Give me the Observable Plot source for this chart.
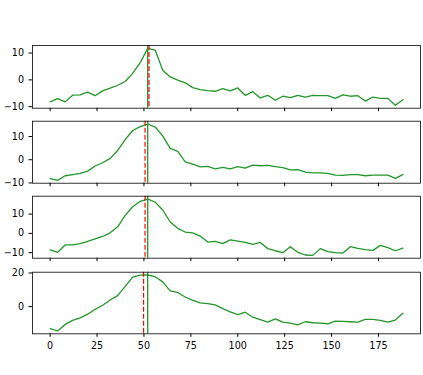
<!DOCTYPE html>
<html><head><meta charset="utf-8">
<script src="https://cdn.jsdelivr.net/npm/d3@7"></script>
<script src="https://cdn.jsdelivr.net/npm/@observablehq/plot@0.6"></script>
<style>
body{margin:0;background:#fff;}
#chart{width:423px;height:375px;position:relative;overflow:hidden;}
#chart svg{display:block;}
</style></head><body><div id="chart"></div>
<script>
const xs = [0,4,8,12,16,20,24,28,32,36,40,44,48,52,56,60,64,68,72,76,80,84,88,92,96,100,104,108,112,116,120,124,128,132,136,140,144,148,152,156,160,164,168,172,176,180,184,188];

const series1 = [-8.2,-7.0,-8.2,-5.7,-5.6,-4.6,-5.9,-4.1,-3.1,-2.0,-0.6,2.4,6.4,11.75,11.1,3.6,1.1,-0.1,-1.1,-2.9,-3.6,-4.0,-4.25,-3.25,-4.1,-3.0,-5.75,-4.4,-6.75,-5.75,-7.6,-6.1,-6.6,-5.75,-6.4,-5.75,-5.9,-5.9,-6.9,-5.6,-6.1,-5.9,-7.9,-6.4,-6.9,-6.9,-9.5,-7.4];
const series2 = [-8.1,-8.9,-6.9,-6.4,-5.9,-4.9,-2.7,-1.3,0.6,4.0,8.7,12.6,14.3,15.4,14.1,10.3,4.9,3.6,-0.9,-1.9,-3.1,-2.9,-3.9,-3.3,-3.9,-3.0,-3.6,-2.3,-2.6,-2.4,-3.0,-3.4,-4.4,-4.3,-5.3,-5.7,-5.7,-5.9,-6.6,-6.7,-6.4,-6.4,-6.9,-6.6,-6.6,-6.6,-8.0,-6.4];
const series3 = [-8.6,-9.8,-6.0,-6.0,-5.3,-4.1,-2.9,-1.6,0.3,3.4,9.3,13.8,16.6,17.8,16.2,12.1,5.9,2.6,0.7,0.3,-1.4,-4.5,-4.1,-5.3,-3.4,-4.0,-4.7,-5.7,-4.7,-7.9,-9.0,-10.0,-6.9,-9.8,-11.2,-11.4,-7.9,-9.5,-10.0,-10.2,-6.9,-7.8,-8.4,-8.8,-6.2,-7.4,-9.0,-7.6];
const series4 = [-13.1,-14.5,-10.6,-8.2,-6.7,-4.5,-1.6,0.8,3.9,6.5,12.0,17.5,18.7,18.8,17.8,14.7,9.4,8.4,5.7,3.7,2.2,1.8,1.0,-1.2,-3.1,-4.7,-3.3,-6.3,-7.8,-9.2,-7.3,-9.2,-9.8,-10.8,-9.0,-9.6,-9.8,-10.2,-8.6,-8.8,-9.0,-9.2,-7.6,-7.6,-8.2,-9.2,-8.0,-3.9];

const greenMarks = [52, 52, 52, 52];
const redMarks = [52.7, 50.6, 50.6, 49.8];

const xTicks = [0,25,50,75,100,125,150,175];
const yTicks1 = [-10,0,10];
const yTicks2 = [-10,0,10];
const yTicks3 = [-10,0,10];
const yTicks4 = [0,20];

const allSeries = [series1, series2, series3, series4];
const allYTicks = [yTicks1, yTicks2, yTicks3, yTicks4];

// layout bands (svg height, frame margins)
const bands = [
  {h:114, mt:45, mb:6.3},
  {h:75, mt:6.7, mb:6.3},
  {h:75, mt:6.7, mb:6.3},
  {h:111, mt:7.7, mb:41.7}
];

const LINE = "#22962a";
const xLo = 0, xHi = 188, xPad = (xHi - xLo) * 0.05;

const chart = document.getElementById("chart");
allSeries.forEach((s, k) => {
  const data = xs.map((x, i) => ({x, y: s[i]}));
  const [lo, hi] = d3.extent(s);
  const pad = (hi - lo) * 0.05;
  const last = k === 3;
  const b = bands[k];
  const svg = Plot.plot({
    width: 423, height: b.h,
    marginLeft: 32, marginRight: 3, marginTop: b.mt, marginBottom: b.mb,
    style: {fontFamily: "'DejaVu Sans', sans-serif", fontSize: "9.6px", background: "transparent", color: "black"},
    x: {domain: [xLo - xPad, xHi + xPad]},
    y: {domain: [lo - pad, hi + pad]},
    marks: [
      Plot.line(data, {x: "x", y: "y", stroke: LINE, strokeWidth: 1.3}),
      Plot.ruleX([greenMarks[k]], {stroke: LINE, strokeWidth: 1.3}),
      Plot.ruleX([redMarks[k]], {stroke: "#ff0000", strokeWidth: 1.2, strokeDasharray: "5,2"}),
      Plot.frame({stroke: "black", strokeWidth: 0.8}),
      Plot.axisX({ticks: xTicks, tickSize: 3.5, tickPadding: 4.5, tickFormat: last ? (d => String(d)) : (() => ""), label: null}),
      Plot.axisY({ticks: allYTicks[k], tickSize: 3.5, tickPadding: 5, label: null})
    ]
  });
  chart.appendChild(svg);
});
</script>
</body></html>
